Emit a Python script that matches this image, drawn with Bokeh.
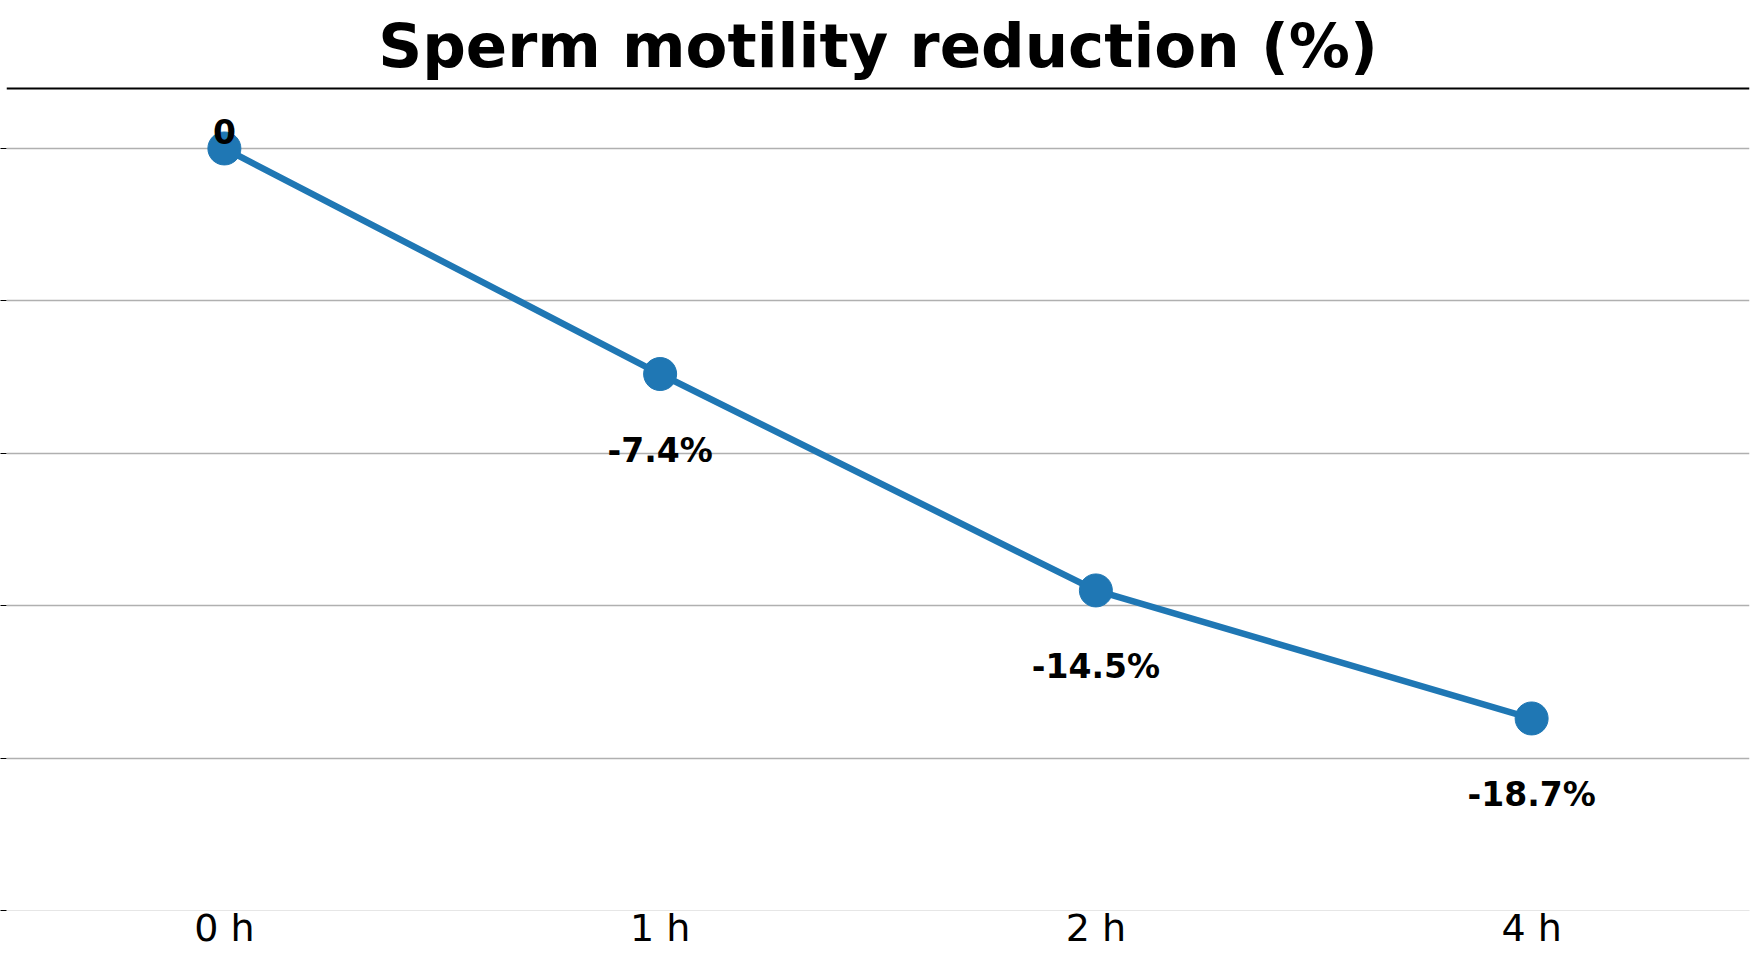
from bokeh.plotting import figure
from bokeh.models import Range1d, FixedTicker, ColumnDataSource, LabelSet, Span, CustomJSTickFormatter
from bokeh.embed import file_html
from bokeh.resources import INLINE
from bokeh.core.properties import value

times = ["0 h", "1 h", "2 h", "4 h"]
reduction = [0.0, -7.4, -14.5, -18.7]
point_labels = ["0", "-7.4%", "-14.5%", "-18.7%"]
y_ticks = [-25, -20, -15, -10, -5, 0]
grid_ticks = [-20, -15, -10, -5, 0]
y_min, y_max = -25, 2

label_y = [v + 0.55 if v == 0 else v - 2.5 for v in reduction]
src = ColumnDataSource(dict(x=times, y=reduction, label=point_labels, ly=label_y))

FONT = "DejaVu Sans"
BLUE = "#1f77b4"

p = figure(width=1752, height=952, x_range=times, y_range=Range1d(y_min, y_max),
           output_backend="svg", toolbar_location=None,
           title="Sperm motility reduction (%)",
           min_border_left=0, min_border_right=3, min_border_top=0, min_border_bottom=0)
p.outline_line_color = None
p.background_fill_color = "white"
p.border_fill_color = "white"

p.title.text_font = FONT
p.title.text_font_size = "61px"
p.title.text_font_style = "bold"
p.title.align = "center"
p.title.text_color = "black"
p.title.standoff = 14

# x axis
p.xaxis.major_label_text_font = FONT
p.xaxis.major_label_text_font_size = "38px"
p.xaxis.major_label_text_color = "black"
p.xaxis.major_tick_out = 0
p.xaxis.major_tick_in = 0
p.xaxis.major_label_standoff = -5
p.xaxis.axis_line_color = "#e6e6e6"
p.xaxis.axis_line_width = 1.2

# y axis: ticks only, no labels
p.yaxis.ticker = FixedTicker(ticks=y_ticks)
p.yaxis.formatter = CustomJSTickFormatter(code="return ''")
p.yaxis.major_label_standoff = 0
p.yaxis.axis_line_color = None
p.yaxis.major_tick_out = 6
p.yaxis.major_tick_in = 0
p.yaxis.minor_tick_out = 0
p.yaxis.minor_tick_in = 0
p.yaxis.major_tick_line_color = "black"

p.xgrid.visible = False
p.ygrid.ticker = FixedTicker(ticks=grid_ticks)
p.ygrid.grid_line_color = "#b0b0b0"
p.ygrid.grid_line_width = 1.3

top_rule = Span(location=y_max, dimension="width", line_color="black", line_width=4)
p.add_layout(top_rule)

p.line("x", "y", source=src, line_width=6.5, line_color=BLUE)
p.scatter("x", "y", source=src, size=33, fill_color=BLUE, line_color=BLUE)

labels = LabelSet(x="x", y="ly", text="label", source=src,
                  text_align="center", text_baseline="middle",
                  text_font=value(FONT), text_font_size="33px",
                  text_font_style="bold", text_color="black")
p.add_layout(labels)

open("out.html", "w").write(file_html(p, INLINE))
